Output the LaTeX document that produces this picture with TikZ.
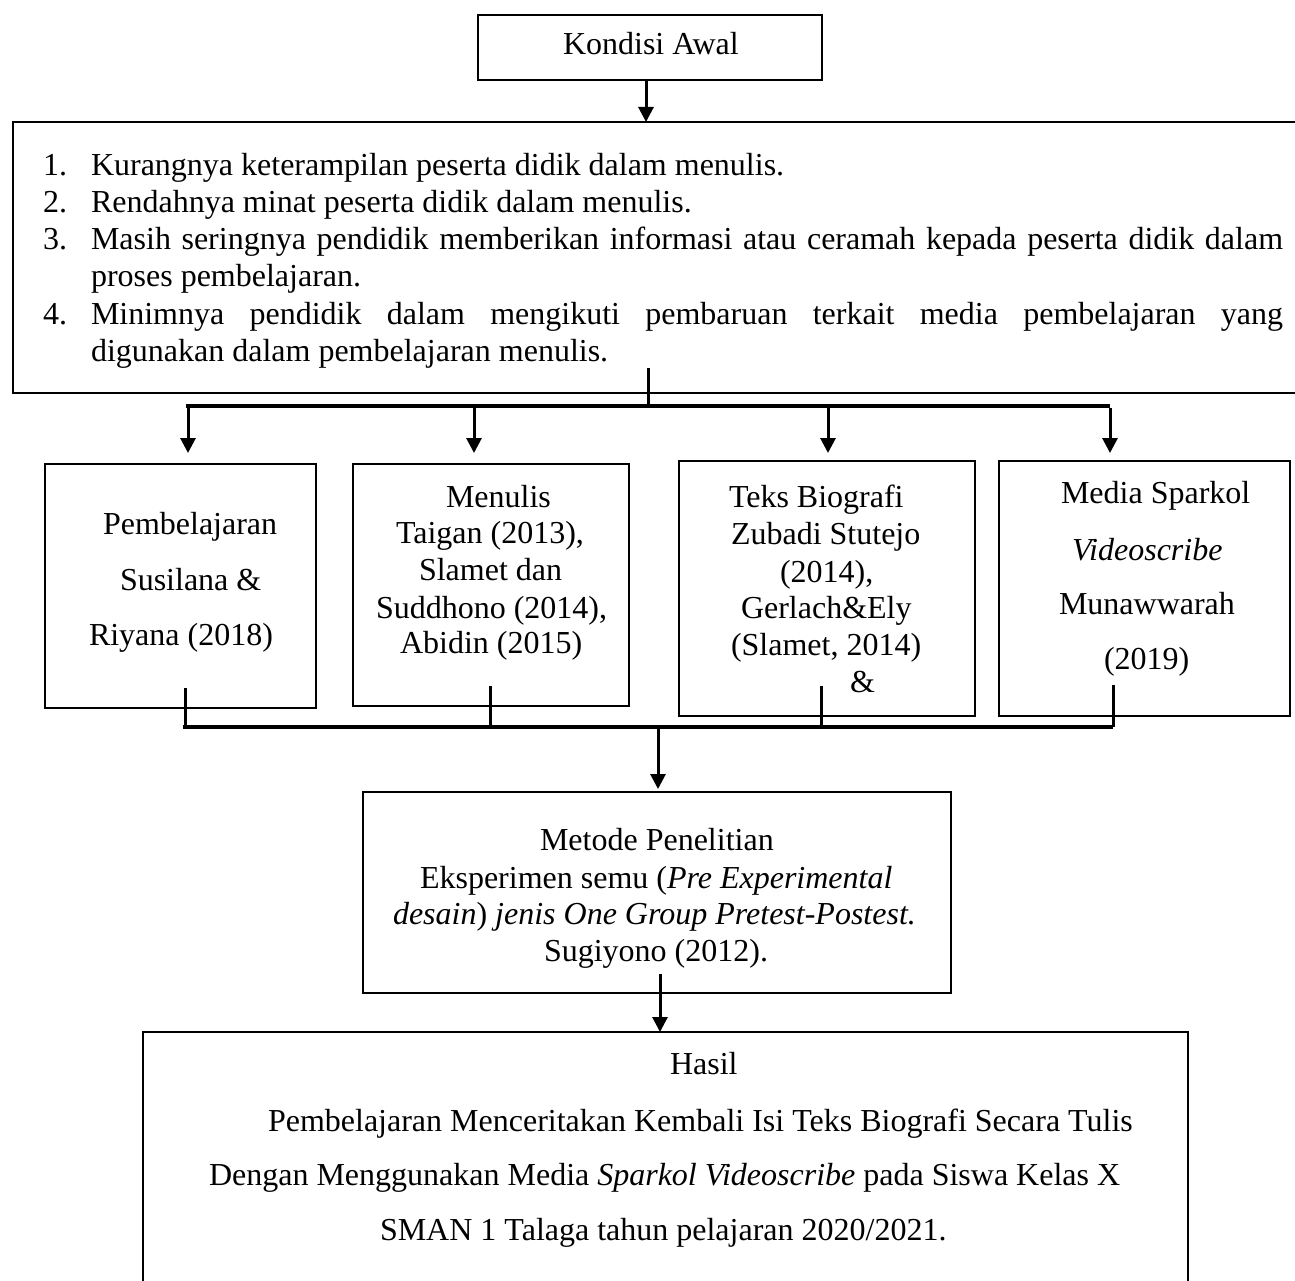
\documentclass[tikz,border=0pt]{standalone}
\usepackage{fontspec}
\setmainfont{Liberation Serif}
\usetikzlibrary{arrows.meta}
\begin{document}
\begin{tikzpicture}[x=1pt,y=-1pt,
  box/.style={draw,line width=2pt,inner sep=0pt,outer sep=0pt},
  txt/.style={anchor=base west,inner sep=0pt,outer sep=0pt,font=\fontsize{32}{37}\selectfont},
  arr/.style={line width=3pt,-{Triangle[width=15pt,length=15pt]}},
  stub/.style={line width=3pt},
  bar/.style={line width=4.5pt}]
\useasboundingbox (0,0) rectangle (1295,1281);
\clip (0,0) rectangle (1295,1281);
\fill[white] (0,0) rectangle (1295,1281);

% boxes
\node[box,minimum width=344pt,minimum height=65pt] (kondisi) at (650,47.5) {};
\node[box,minimum width=1297pt,minimum height=271pt] (masalah) at (661,257.5) {};
\node[box,minimum width=271pt,minimum height=244pt] (box1) at (180.5,586) {};
\node[box,minimum width=276pt,minimum height=242pt] (box2) at (491,585) {};
\node[box,minimum width=296pt,minimum height=255pt] (box3) at (827,588.5) {};
\node[box,minimum width=291pt,minimum height=255pt] (box4) at (1144.5,588.5) {};
\node[box,minimum width=588pt,minimum height=201pt] (metode) at (657,892.5) {};
\node[box,minimum width=1045pt,minimum height=276pt] (hasil) at (665.5,1170) {};

% texts
\node[txt] (tk) at (563,55) {Kondisi Awal};

\node[txt] (n1) at (43,176) {1.};
\node[txt] (l1) at (91,176) {Kurangnya keterampilan peserta didik dalam menulis.};
\node[txt] (n2) at (43,213) {2.};
\node[txt] (l2) at (91,213) {Rendahnya minat peserta didik dalam menulis.};
\node[txt] (n3) at (43,250) {3.};
\node[txt] (l3) at (91,250) {\makebox[1192pt][s]{Masih seringnya pendidik memberikan informasi atau ceramah kepada peserta didik dalam}};
\node[txt] (l3b) at (91,287) {proses pembelajaran.};
\node[txt] (n4) at (43,324) {4.};
\node[txt] (l4) at (91,324) {\makebox[1192pt][s]{Minimnya pendidik dalam mengikuti pembaruan terkait media pembelajaran yang}};
\node[txt] (l4b) at (91,361) {digunakan dalam pembelajaran menulis.};

\node[txt] (b1a) at (103,534) {Pembelajaran};
\node[txt] (b1b) at (120,590) {Susilana \&};
\node[txt] (b1c) at (89,645) {Riyana (2018)};

\node[txt] (b2a) at (446,507) {Menulis};
\node[txt] (b2b) at (396,543) {Taigan (2013),};
\node[txt] (b2c) at (419,580) {Slamet dan};
\node[txt] (b2d) at (376,618) {Suddhono (2014),};
\node[txt] (b2e) at (400,653) {Abidin (2015)};

\node[txt] (b3a) at (729,507) {Teks Biografi};
\node[txt] (b3b) at (731,544) {Zubadi Stutejo};
\node[txt] (b3c) at (780,582) {(2014),};
\node[txt] (b3d) at (741,618) {Gerlach\&Ely};
\node[txt] (b3e) at (731,655) {(Slamet, 2014)};
\node[txt] (b3f) at (850,692) {\&};

\node[txt] (b4a) at (1061,503) {Media Sparkol};
\node[txt] (b4b) at (1072,560) {\textit{Videoscribe}};
\node[txt] (b4c) at (1059,614) {Munawwarah};
\node[txt] (b4d) at (1104,669) {(2019)};

\node[txt] (m1t) at (540,850) {Metode Penelitian};
\node[txt] (m2t) at (420,888) {Eksperimen semu (\textit{Pre Experimental}};
\node[txt] (m3t) at (393,924) {\textit{desain}) \textit{jenis One Group Pretest-Postest.}};
\node[txt] (m4t) at (544,961) {Sugiyono (2012).};

\node[txt] (h1) at (670,1074) {Hasil};
\node[txt] (h2) at (268,1131) {Pembelajaran Menceritakan Kembali Isi Teks Biografi Secara Tulis};
\node[txt] (h3) at (209,1185) {Dengan Menggunakan Media \textit{Sparkol Videoscribe} pada Siswa Kelas X};
\node[txt] (h4) at (380,1240) {SMAN 1 Talaga tahun pelajaran 2020/2021.};

% connectors
\draw[arr] ([xshift=-4pt]kondisi.south) -- ([xshift=-4pt]kondisi.south |- masalah.north);

\coordinate (ms) at (648,368);
\coordinate (bar1L) at (186,406);
\coordinate (bar1R) at (1110,406);
\draw[stub] (ms) -- (ms |- bar1L);
\draw[bar] (bar1L) -- (bar1R);
\coordinate (a1) at (188,408);
\coordinate (a2) at (474,408);
\coordinate (a3) at (828,408);
\coordinate (a4) at (1110,408);
\draw[arr,shorten >=11pt] (a1) -- (a1 |- box1.north);
\draw[arr,shorten >=11pt] (a2) -- (a2 |- box2.north);
\draw[arr,shorten >=8pt] (a3) -- (a3 |- box3.north);
\draw[arr,shorten >=8pt] (a4) -- (a4 |- box4.north);

\coordinate (bar2L) at (183,727);
\coordinate (bar2R) at (1113,727);
\coordinate (s1) at (185,688);
\coordinate (s2) at (490,686);
\coordinate (s3) at (821,686);
\coordinate (s4) at (1113,685);
\draw[stub] (s1) -- (s1 |- bar2L);
\draw[stub] (s2) -- (s2 |- bar2L);
\draw[stub] (s3) -- (s3 |- bar2L);
\draw[stub] (s4) -- (s4 |- bar2L);
\draw[bar] (bar2L) -- (bar2R);
\coordinate (c2) at (658,729);
\draw[arr,shorten >=3pt] (c2) -- (c2 |- metode.north);

\coordinate (mb) at (660,974);
\draw[arr] (mb) -- (mb |- hasil.north);
\end{tikzpicture}
\end{document}
